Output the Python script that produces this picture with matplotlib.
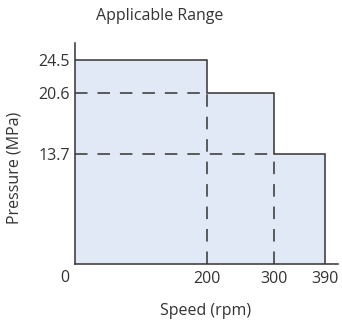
import matplotlib
matplotlib.use("Agg")
import matplotlib.pyplot as plt
import numpy as np

# speed limits (rpm) and matching max pressure (MPa)
speeds = [0, 200, 300, 390]
pressures = [24.5, 20.6, 13.7]
x_ticks = [200, 300, 390]
y_ticks = [24.5, 20.6, 13.7]

plt.rcParams['font.family'] = ['Open Sans', 'DejaVu Sans']
ink = '#333333'
fill = '#e1e8f6'
fs = 11.5

# the drawing is schematic: segments are not quite to scale
xsrc = [0, 300, 390, 500]
xdst = [0, 300, 378, 488]
ysrc = [0, 13.7, 20.6, 24.5, 40]
ydst = [0, 13.25, 20.64, 24.58, 40.08]


def xfwd(v):
    return np.interp(v, xsrc, xdst)


def xinv(v):
    return np.interp(v, xdst, xsrc)


def yfwd(v):
    return np.interp(v, ysrc, ydst)


def yinv(v):
    return np.interp(v, ydst, ysrc)


fig = plt.figure(figsize=(3.42, 3.24), dpi=100)
ax = fig.add_axes([0.219, 0.185, 0.769, 0.682])
ax.set_xscale('function', functions=(xfwd, xinv))
ax.set_yscale('function', functions=(yfwd, yinv))

lefts = speeds[:-1]
widths = np.diff(speeds)
ax.bar(lefts, pressures, width=widths, align='edge', color=fill, edgecolor='none', zorder=1)

# outline of the range
xs = [speeds[0], speeds[1], speeds[1], speeds[2], speeds[2], speeds[3], speeds[3]]
ys = [pressures[0], pressures[0], pressures[1], pressures[1], pressures[2], pressures[2], 0]
ax.plot(xs, ys, color=ink, lw=1.1, solid_joinstyle='miter', zorder=3)

# dashed guides
dash = (0, (8.2, 6.5))
ax.hlines(pressures[1:], 0, speeds[1:3], colors=ink, lw=1.1, linestyles=[dash], zorder=2)
ax.vlines(speeds[1:3], 0, pressures[1:], colors=ink, lw=1.1, linestyles=[dash], zorder=2)

ax.set_xlim(0, 409)
ax.set_ylim(0, 26.55)

for s in ['top', 'right']:
    ax.spines[s].set_visible(False)
for s in ['left', 'bottom']:
    ax.spines[s].set_color(ink)
    ax.spines[s].set_linewidth(1.1)
    ax.spines[s].set_zorder(4)

ax.set_xticks(x_ticks)
ax.set_xticklabels([str(v) for v in x_ticks])
ax.set_yticks(y_ticks)
ax.set_yticklabels([str(v) for v in y_ticks])
ax.tick_params(length=0, labelsize=fs, colors=ink)
ax.tick_params(axis='y', pad=3.5)
ax.tick_params(axis='x', pad=5)

fig.text(65 / 342, 1 - 278 / 324, '0', ha='center', va='center', fontsize=fs, color=ink)
fig.text(206 / 342, 1 - 311 / 324, 'Speed (rpm)', ha='center', va='center', fontsize=fs, color=ink)
fig.text(15 / 342, 1 - 168 / 324, 'Pressure (MPa)', ha='center', va='center', rotation=90,
         fontsize=fs, color=ink)
fig.text(160 / 342, 1 - 16 / 324, 'Applicable Range', ha='center', va='center', fontsize=fs, color=ink)

fig.savefig('out.png', dpi=100)
